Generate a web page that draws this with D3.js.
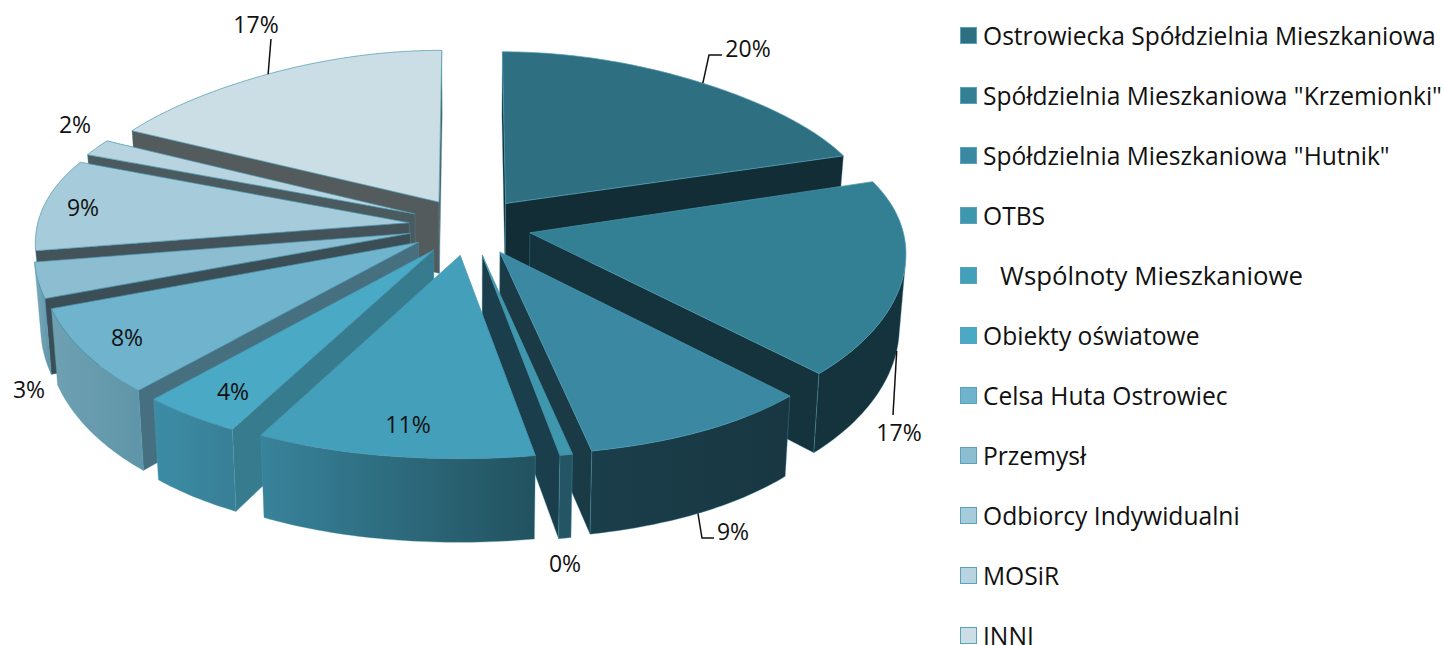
<!DOCTYPE html>
<html lang="pl"><head><meta charset="utf-8">
<script src="https://cdn.jsdelivr.net/npm/d3@7/dist/d3.min.js"></script>
<style>html,body{margin:0;padding:0;background:#fff;overflow:hidden}svg{display:block}text{font-family:"Open Sans",sans-serif;fill:#111}</style>
</head><body><svg id="c" width="1444" height="645"></svg>
<script>
const categories = ["Ostrowiecka Spółdzielnia Mieszkaniowa","Spółdzielnia Mieszkaniowa \"Krzemionki\"","Spółdzielnia Mieszkaniowa \"Hutnik\"","OTBS","   Wspólnoty Mieszkaniowe","Obiekty oświatowe","Celsa Huta Ostrowiec","Przemysł","Odbiorcy Indywidualni","MOSiR","INNI"];
const values = [20.0,17.47,9.12,0.49,10.83,3.98,7.5,3.08,8.7,1.68,17.12];
const topColors = ["#2f6f82","#337f93","#3a88a1","#3f97ae","#44a0ba","#4aa9c5","#70b3cc","#8cbdd1","#a6cbdb","#b7d4e0","#cbdee5"];
const cutColors = ["#132d36","#15333c","#1a3b46","#1a3e4b","#2a6679","#377b8f","#46707f","#3c4e55","#445359","#4a5a5e","#535b5c"];
const wallLeft  = ["#132d36","#15333c","#1a3e4a","#235564","#38839b","#3c8ca6","#6ea0b2","#7aa9bc","#7aa9bc","#7aa9bc","#7aa9bc"];
const wallRight = ["#132d36","#15333c","#183742","#235564","#22525f","#387f96","#5f95a8","#5f95a8","#7aa9bc","#7aa9bc","#7aa9bc"];
// label layout (centre of text) and leader routes
const labelLayout = [[748,48],[899,432],[733,531],[565,563],[408,424],[233,391],[127,337],[29,389],[83,207],[75,124],[256,24]];
const leaderRoute = {0:{z:0,via:[[709,55],[722,55]]},1:{z:1,via:[[893,415]]},2:{z:1,via:[[702,538],[714,538]]},10:{z:0,via:[[271,39]]}};

const cx=470, cy=226, A=372, B=174, p=0.115, px=0.1, d=0.165, H=72.5, kb=0.985, bulge=14;
const svg=d3.select("#c");
const defs=svg.append("defs");
const pie=d3.pie().sort(null).value(v=>v).startAngle(0).endAngle(2*Math.PI);
const arcs=pie(values).map((a,i)=>({...a,i,mid:(a.startAngle+a.endAngle)/2}));
function project(a,th,r,bottom){
  const X=r*Math.sin(th)+d*Math.sin(a.mid), Y=-(r*Math.cos(th)+d*Math.cos(a.mid));
  const w=1/(1-p*Y), wx=1/(1-px*Y);
  let x=X*A*wx, y=Y*B*w + bulge*Y*Y*(1.3-Y*Y);
  if(bottom){x*=kb;y+=H*w;}
  return [cx+x,cy+y];
}
const line=d3.line();
const area=pts=>d3.polygonArea(pts);
function angles(a){
  const n=Math.max(2,Math.ceil((a.endAngle-a.startAngle)*60));
  return d3.range(n+1).map(j=>a.startAngle+(a.endAngle-a.startAngle)*j/n);
}
const edge="#4a98b0";
arcs.slice().sort((u,v)=>Math.cos(v.mid)-Math.cos(u.mid)).forEach(a=>{
  const g=svg.append("g");
  const ths=angles(a);
  const top=ths.map(t=>project(a,t,1,false)),bot=ths.map(t=>project(a,t,1,true));
  const apexT=project(a,0,0,false),apexB=project(a,0,0,true);
  const cut=th=>[apexT,project(a,th,1,false),project(a,th,1,true),apexB];
  // radial cut faces: only those turned to the viewer
  const cs=cut(a.startAngle),ce=cut(a.endAngle);
  if(area(cs)>0) g.append("path").attr("d",line(cs)+"Z").attr("fill",cutColors[a.i]).attr("stroke",edge).attr("stroke-width",0.5).attr("stroke-opacity",0.7);
  if(area(ce)<0) g.append("path").attr("d",line(ce)+"Z").attr("fill",cutColors[a.i]).attr("stroke",edge).attr("stroke-width",0.5).attr("stroke-opacity",0.7);
  // outer wall: runs of front-facing segments
  const xs=bot.map(q=>q[0]).concat(top.map(q=>q[0]));
  const gid="w"+a.i;
  const lg=defs.append("linearGradient").attr("id",gid).attr("gradientUnits","userSpaceOnUse")
    .attr("x1",d3.min(xs)).attr("x2",d3.max(xs)).attr("y1",0).attr("y2",0);
  lg.append("stop").attr("offset",0).attr("stop-color",wallLeft[a.i]);
  lg.append("stop").attr("offset",1).attr("stop-color",wallRight[a.i]);
  let run=[];
  const flush=()=>{ if(run.length>1){
      const T=run.map(j=>top[j]),Bt=run.map(j=>bot[j]).reverse();
      g.append("path").attr("d",line(T.concat(Bt))+"Z").attr("fill",`url(#${gid})`).attr("stroke",edge).attr("stroke-width",0.5).attr("stroke-opacity",0.7);
    } run=[]; };
  for(let j=0;j<ths.length-1;j++){
    const q=[top[j],top[j+1],bot[j+1],bot[j]];
    if(area(q)>0){ if(!run.length) run.push(j); run.push(j+1);} else flush();
  }
  flush();
  // top face
  g.append("path").attr("d",line([apexT].concat(top))+"Z").attr("fill",topColors[a.i]).attr("stroke",edge).attr("stroke-width",0.7).attr("stroke-linejoin","round");
});
// leaders
Object.keys(leaderRoute).forEach(k=>{
  const a=arcs[+k],rt=leaderRoute[k];
  const s=project(a,a.mid,1,rt.z===1);
  svg.append("path").attr("d",line([s].concat(rt.via))).attr("fill","none").attr("stroke","#111").attr("stroke-width",1.5);
});
// data labels
arcs.forEach(a=>{
  svg.append("text").attr("x",labelLayout[a.i][0]).attr("y",labelLayout[a.i][1]).attr("text-anchor","middle").attr("dominant-baseline","central")
   .style("font-size","23px").text(Math.round(a.value)+"%");
});
// legend
const ly=d3.scalePoint().domain(d3.range(categories.length)).range([35,635]);
categories.forEach((c,i)=>{
  svg.append("rect").attr("x",960.5).attr("y",ly(i)-7.5).attr("width",16).attr("height",16).attr("fill",topColors[i]).attr("stroke","#5aa3ba").attr("stroke-width",1);
  svg.append("text").attr("x",i===4?980:983).attr("y",ly(i)).attr("dominant-baseline","central").attr("xml:space","preserve").style("white-space","pre").style("font-size",i===4?"25.8px":"24.6px").text(c);
});
</script></body></html>
